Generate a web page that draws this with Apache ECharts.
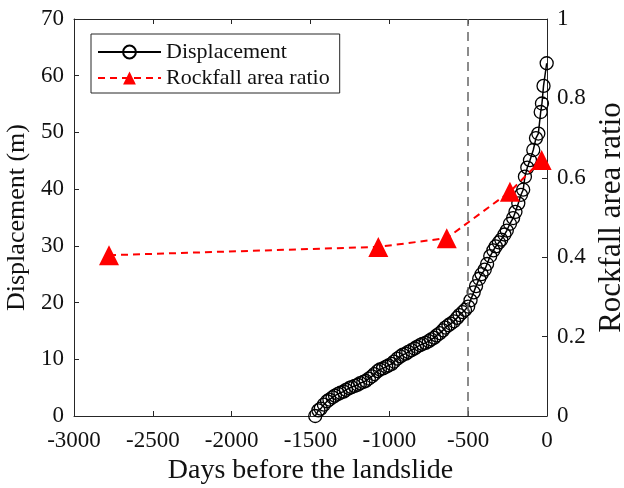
<!DOCTYPE html>
<html>
<head>
<meta charset="utf-8">
<script src="https://cdn.jsdelivr.net/npm/echarts@6/dist/echarts.min.js"></script>
<style>
  html, body { margin: 0; padding: 0; background: #fff; }
  #chart { width: 624px; height: 488px; }
</style>
</head>
<body>
<div id="chart"></div>
<script>
// displacement (m) vs days before the landslide
var dispDays = [-1470, -1450, -1435, -1415, -1395, -1380, -1360, -1345, -1325, -1310,
  -1290, -1275, -1255, -1240, -1220, -1200, -1185, -1165, -1150, -1130,
  -1110, -1095, -1075, -1060, -1040, -1020, -1005, -985, -970, -950,
  -930, -915, -895, -880, -860, -840, -825, -805, -790, -770,
  -750, -735, -715, -700, -680, -660, -645, -625, -610, -590,
  -570, -555, -535, -520, -500, -485, -465, -450, -430, -415,
  -395, -380, -360, -340, -325, -305, -290, -270, -255, -235,
  -215, -200, -182, -165, -151, -140, -125, -108, -87, -70,
  -55, -40, -32, -22, -2]
var dispValues = [0.0, 1.0, 1.3, 2.0, 2.6, 2.9, 3.3, 3.6, 3.9, 4.1,
  4.3, 4.6, 4.9, 5.1, 5.3, 5.5, 5.8, 6.0, 6.2, 6.6,
  7.0, 7.4, 7.9, 8.2, 8.4, 8.7, 8.9, 9.2, 9.6, 10.1,
  10.5, 10.8, 11.0, 11.3, 11.6, 11.9, 12.2, 12.5, 12.7, 12.9,
  13.2, 13.5, 13.8, 14.2, 14.6, 15.1, 15.6, 16.0, 16.3, 16.7,
  17.3, 17.8, 18.3, 18.7, 19.3, 20.4, 21.8, 22.9, 24.2, 25.0,
  25.8, 26.8, 28.2, 29.2, 29.9, 30.6, 31.1, 32.0, 32.7, 33.9,
  34.9, 36.0, 37.5, 39.0, 39.9, 42.2, 43.8, 45.1, 46.9, 49.0,
  49.8, 53.6, 55.1, 58.2, 62.2]

// rockfall area ratio (right axis)
var rockDays = [-2778, -1070, -636, -235, -34]
var rockValues = [0.405, 0.426, 0.448, 0.565, 0.645]

var markDay = -500

var xTicks = { min: -3000, max: 0, interval: 500 }
var leftTicks = { min: 0, max: 70, interval: 10 }
var rightTicks = { min: 0, max: 1, interval: 0.2 }

var font = 'Liberation Serif'
var axisColor = '#262626'

function pairs (xs, ys) {
  var out = []
  xs.forEach(function (x, i) { out.push([x, ys[i]]) })
  return out
}

var chart = echarts.init(document.getElementById('chart'), null, { renderer: 'canvas' })

var tick = { show: true, inside: true, length: 5, lineStyle: { color: axisColor, width: 1 } }
var line = { show: true, onZero: false, lineStyle: { color: axisColor, width: 1 } }

var opt = {
  animation: false,
  backgroundColor: '#fff',
  grid: { left: 74, right: 77, top: 19, bottom: 72, containLabel: false, outerBoundsMode: 'none' },
  legend: {
    orient: 'vertical',
    left: 91,
    top: 34,
    padding: [7, 10, 4, 6],
    itemGap: 4,
    itemWidth: 63,
    itemHeight: 16,
    borderColor: axisColor,
    borderWidth: 1,
    backgroundColor: '#fff',
    textStyle: { fontFamily: font, fontSize: 22, color: '#111' },
    data: ['Displacement', 'Rockfall area ratio']
  },
  xAxis: [{
    type: 'value',
    min: xTicks.min,
    max: xTicks.max,
    interval: xTicks.interval,
    name: 'Days before the landslide',
    nameLocation: 'middle',
    nameGap: 40,
    nameTextStyle: { fontFamily: font, fontSize: 28, color: '#111' },
    axisLine: line,
    axisTick: tick,
    axisLabel: {
      fontFamily: font, fontSize: 23, color: '#111', margin: 13,
      formatter: function (v) { return String(v) }
    },
    splitLine: { show: false }
  }, {
    type: 'value',
    position: 'top',
    min: xTicks.min,
    max: xTicks.max,
    interval: xTicks.interval,
    axisLine: line,
    axisTick: tick,
    axisLabel: { show: false },
    splitLine: { show: false }
  }],
  yAxis: [{
    type: 'value',
    position: 'left',
    min: leftTicks.min,
    max: leftTicks.max,
    interval: leftTicks.interval,
    name: 'Displacement (m)',
    nameLocation: 'middle',
    nameRotate: 90,
    nameGap: 44,
    nameTextStyle: { fontFamily: font, fontSize: 26, color: '#111' },
    axisLine: line,
    axisTick: tick,
    axisLabel: { fontFamily: font, fontSize: 23, color: '#111', margin: 10 },
    splitLine: { show: false }
  }, {
    type: 'value',
    position: 'right',
    min: rightTicks.min,
    max: rightTicks.max,
    interval: rightTicks.interval,
    name: 'Rockfall area ratio',
    nameLocation: 'middle',
    nameRotate: 90,
    nameGap: 47,
    nameTextStyle: { fontFamily: font, fontSize: 31, color: '#111' },
    axisLine: line,
    axisTick: tick,
    axisLabel: {
      fontFamily: font, fontSize: 23, color: '#111', margin: 10,
      formatter: function (v) { return String(+v.toFixed(1)) }
    },
    splitLine: { show: false }
  }],
  series: [{
    name: 'Displacement',
    type: 'line',
    xAxisIndex: 0,
    yAxisIndex: 0,
    data: pairs(dispDays, dispValues),
    symbol: 'circle',
    symbolSize: 13,
    showAllSymbol: true,
    lineStyle: { color: '#000', width: 1.5 },
    itemStyle: { color: 'rgba(255,255,255,0)', borderColor: '#000', borderWidth: 1.3 },
    markLine: {
      silent: true,
      symbol: 'none',
      label: { show: false },
      lineStyle: { color: '#666', width: 1.5, type: [9, 6] },
      data: [{ xAxis: markDay }]
    },
    z: 2
  }, {
    name: 'Rockfall area ratio',
    type: 'line',
    xAxisIndex: 0,
    yAxisIndex: 1,
    data: pairs(rockDays, rockValues),
    symbol: 'triangle',
    symbolSize: 20,
    lineStyle: { color: '#ff0000', width: 2, type: [7, 5] },
    itemStyle: { color: '#ff0000' },
    z: 3
  }]
}

chart.setOption(opt)
</script>
</body>
</html>
